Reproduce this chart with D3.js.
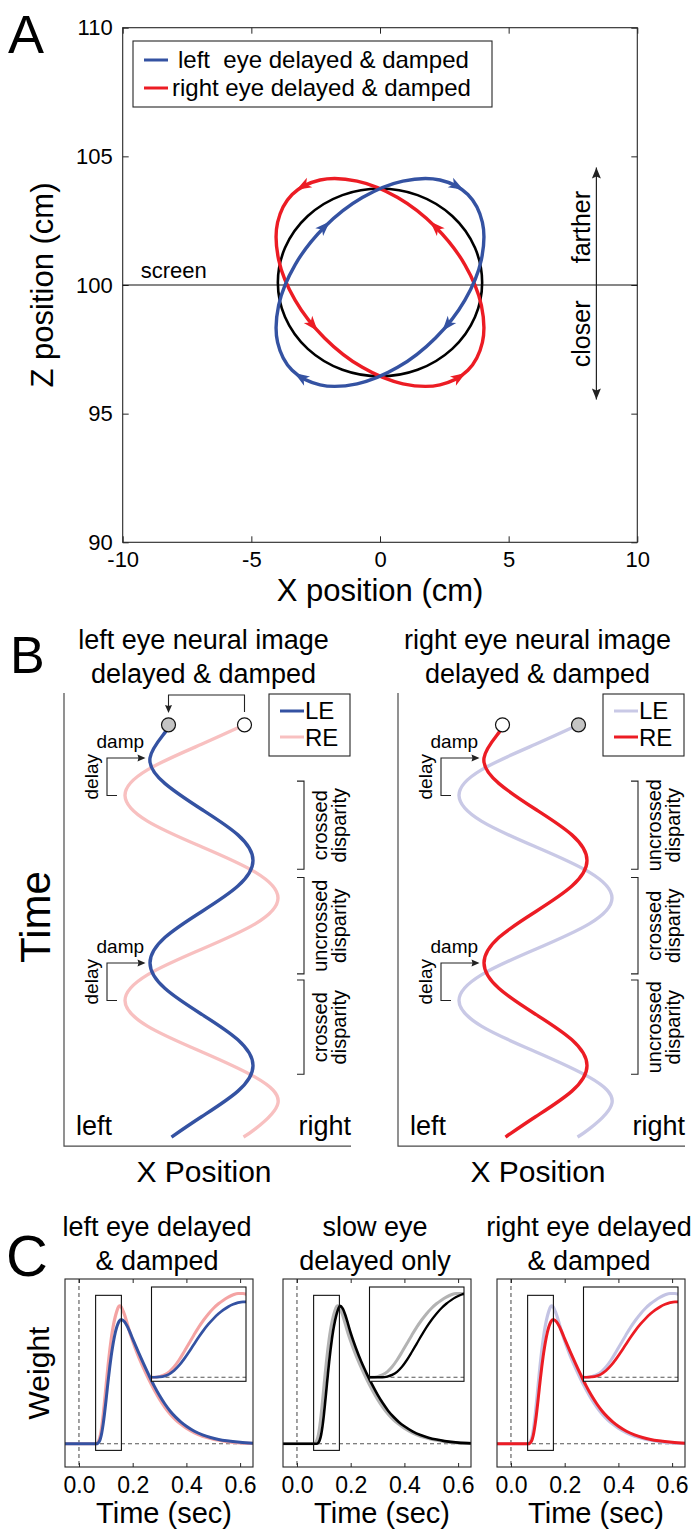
<!DOCTYPE html>
<html><head><meta charset="utf-8">
<script src="https://cdn.jsdelivr.net/npm/d3@7"></script>
<style>
body{margin:0;background:#fff}
svg{display:block}
text{font-family:"Liberation Sans",Arial,Helvetica,sans-serif;fill:#000}
</style>
</head><body>
<svg id="fig" width="691" height="1529"></svg>
<script>
// ================= DATA =================
// ---- Panel A ----
const aXTicks = [-10, -5, 0, 5, 10];
const aZTicks = [90, 95, 100, 105, 110];
const aLegendLabels = ['left  eye delayed & damped', 'right eye delayed & damped'];
// perceived trajectories [x (cm), z (cm)]
const leftEyeLoop = [[3.415,103.515],[2.330,104.08],[0.890,104.04],[-0.686,103.40],[-2.157,102.257],[-3.300,100.786],[-3.940,99.21],[-3.980,97.77],[-3.415,96.685],[-2.330,96.12],[-0.890,96.16],[0.686,96.80],[2.157,97.943],[3.300,99.414],[3.940,100.99],[3.980,102.43]];
const rightEyeLoop = [[-3.415,103.515],[-2.330,104.08],[-0.890,104.04],[0.686,103.40],[2.157,102.257],[3.300,100.786],[3.940,99.21],[3.980,97.77],[3.415,96.685],[2.330,96.12],[0.890,96.16],[-0.686,96.80],[-2.157,97.943],[-3.300,99.414],[-3.940,100.99],[-3.980,102.43]];
// arrows [x, z, dx, dz]
const leftEyeArrows = [[2.99,103.84,2.72,-1.53],[-2.157,102.257,3.415,3.415],[2.611,98.44,-3.081,-3.681],[-3.081,96.42,-2.61,1.66]];
const rightEyeArrows = [[-2.99,103.84,-2.72,-1.53],[2.157,102.257,-3.415,3.415],[-2.611,98.44,3.081,-3.681],[3.081,96.42,2.61,1.66]];
const stimulusCircle = [0, 100.1, 3.97, 3.65]; // cx, cz, rx, rz
const screenDepth = 100;
const depthArrow = [8.41, 95.55, 104.57]; // x, z bottom, z top

// ---- Panel B ---- [time (cycles), x position]
const bTitles = [['left eye neural image','delayed & damped'],['right eye neural image','delayed & damped']];
const undampedTrace = [[0.155,0.43],[0.25,0],[0.375,-0.541],[0.5,-0.765],[0.625,-0.541],[0.75,0],[0.875,0.541],[1.0,0.765],[1.125,0.541],[1.25,0],[1.375,-0.541],[1.5,-0.765],[1.625,-0.541],[1.75,0],[1.875,0.541],[2.0,0.765],[2.125,0.541],[2.166,0.42]];
const dampedTrace = [[0.155,-0.33],[0.192,-0.364],[0.317,-0.515],[0.442,-0.364],[0.567,0],[0.692,0.364],[0.817,0.515],[0.942,0.364],[1.067,0],[1.192,-0.364],[1.317,-0.515],[1.442,-0.364],[1.567,0],[1.692,0.364],[1.817,0.515],[1.942,0.364],[2.067,0],[2.166,-0.30]];
const dampTimes = [0.317, 1.317];
const delayEnds = [0.5, 1.5];
const bracketSpans = [[0.43,0.86],[0.9,1.37],[1.4,1.86]];
const leftBracketLabels = ['crossed','uncrossed','crossed'];
const rightBracketLabels = ['uncrossed','crossed','uncrossed'];

// ---- Panel C ---- time (s) and weights
const cTimes =      [-0.052,0.06,0.065,0.07,0.075,0.08,0.085,0.09,0.095,0.10,0.105,0.11,0.115,0.12,0.125,0.13,0.135,0.14,0.145,0.15,0.155,0.16,0.17,0.18,0.19,0.20,0.21,0.22,0.24,0.26,0.28,0.30,0.32,0.34,0.36,0.38,0.40,0.43,0.46,0.49,0.52,0.55,0.60,0.648];
const fastWeights = [0,0,0,0.008,0.028,0.065,0.125,0.205,0.3,0.4,0.5,0.595,0.68,0.755,0.82,0.873,0.916,0.952,0.98,0.996,0.995,0.978,0.93,0.866,0.8,0.742,0.688,0.638,0.548,0.465,0.39,0.322,0.263,0.213,0.173,0.14,0.112,0.079,0.055,0.038,0.025,0.015,0.006,0.002];
const dampedWeights=[0,0,0,0.004,0.014,0.038,0.08,0.14,0.215,0.3,0.39,0.478,0.56,0.633,0.697,0.753,0.8,0.838,0.866,0.886,0.896,0.896,0.88,0.848,0.805,0.758,0.712,0.667,0.58,0.497,0.418,0.348,0.287,0.235,0.192,0.156,0.126,0.09,0.064,0.045,0.031,0.021,0.01,0.004];
const slowWeights = [0,0,0,0,0,0.008,0.028,0.065,0.125,0.205,0.3,0.4,0.5,0.595,0.68,0.755,0.82,0.873,0.916,0.952,0.98,0.996,0.978,0.93,0.866,0.8,0.742,0.688,0.59,0.505,0.427,0.355,0.292,0.237,0.193,0.156,0.126,0.09,0.063,0.044,0.03,0.019,0.008,0.003];
const cTicks = [0, 0.2, 0.4, 0.6];
const cTitles = [['left eye delayed','& damped'],['slow eye','delayed only'],['right eye delayed','& damped']];
const zoomWindow = [0.062, 0.158, -0.048, 1.072]; // t0, t1, w0, w1

// ================= DRAWING =================
const svg = d3.select('#fig');
const AX = '#262626';
const BLUE = '#3452a2', RED = '#ec1c24';

function arrowHead(g, x, y, ang, len, hw, indent, color, tipAtPoint) {
  const off = tipAtPoint ? 0 : len / 2;
  const p = `M${off},0 L${off-len},${-hw} L${off-len+indent},0 L${off-len},${hw} Z`;
  g.append('path').attr('d', p).attr('fill', color)
    .attr('transform', `translate(${x},${y}) rotate(${ang * 180 / Math.PI})`);
}
function styleAxis(g, size) {
  g.select('.domain').remove();
  g.selectAll('line').attr('stroke', AX);
  g.selectAll('text').attr('font-size', size).attr('font-family', '"Liberation Sans",Arial,sans-serif').attr('fill', '#1a1a1a');
  g.attr('font-family', null).attr('font-size', null);
}

// ---------- Panel A ----------
const xA = d3.scaleLinear().domain([-10, 10]).range([122.7, 637.3]);
const zA = d3.scaleLinear().domain([90, 110]).range([542.3, 27.7]);
const gA = svg.append('g');

gA.append('g').attr('transform', `translate(0,${zA(90)})`)
  .call(d3.axisBottom(xA).tickValues(aXTicks).tickSize(-6).tickPadding(9).tickFormat(d => String(d)))
  .call(g => styleAxis(g, 22));
gA.append('g').attr('transform', `translate(0,${zA(110)})`)
  .call(d3.axisTop(xA).tickValues(aXTicks).tickSize(-6).tickFormat(''))
  .call(g => styleAxis(g, 22));
gA.append('g').attr('transform', `translate(${xA(-10)},0)`)
  .call(d3.axisLeft(zA).tickValues(aZTicks).tickSize(-6).tickPadding(10).tickFormat(d => String(d)))
  .call(g => styleAxis(g, 22));
gA.append('g').attr('transform', `translate(${xA(10)},0)`)
  .call(d3.axisRight(zA).tickValues(aZTicks).tickSize(-6).tickFormat(''))
  .call(g => styleAxis(g, 22));
gA.append('rect').attr('x', xA(-10)).attr('y', zA(110))
  .attr('width', xA(10) - xA(-10)).attr('height', zA(90) - zA(110))
  .attr('fill', 'none').attr('stroke', AX).attr('stroke-width', 1.1);

// screen line
gA.append('line').attr('x1', xA(-10)).attr('x2', xA(10)).attr('y1', zA(screenDepth)).attr('y2', zA(screenDepth))
  .attr('stroke', '#111').attr('stroke-width', 1.2);
gA.append('text').attr('x', xA(-9.3)).attr('y', zA(screenDepth) - 7).attr('font-size', 22).text('screen');

// depth arrow
gA.append('line').attr('x1', xA(depthArrow[0])).attr('x2', xA(depthArrow[0]))
  .attr('y1', zA(depthArrow[1])).attr('y2', zA(depthArrow[2])).attr('stroke', '#222').attr('stroke-width', 1.2);
arrowHead(gA, xA(depthArrow[0]), zA(depthArrow[2]), -Math.PI / 2, 11, 4.5, 2, '#222', true);
arrowHead(gA, xA(depthArrow[0]), zA(depthArrow[1]), Math.PI / 2, 11, 4.5, 2, '#222', true);
gA.append('text').attr('transform', `translate(${xA(depthArrow[0]) - 6},${zA(102.25)}) rotate(-90)`)
  .attr('text-anchor', 'middle').attr('font-size', 25).text('farther');
gA.append('text').attr('transform', `translate(${xA(depthArrow[0]) - 6},${zA(98.1)}) rotate(-90)`)
  .attr('text-anchor', 'middle').attr('font-size', 25).text('closer');

// stimulus circle
gA.append('ellipse').attr('cx', xA(stimulusCircle[0])).attr('cy', zA(stimulusCircle[1]))
  .attr('rx', xA(stimulusCircle[2]) - xA(0)).attr('ry', zA(stimulusCircle[1] - stimulusCircle[3]) - zA(stimulusCircle[1]))
  .attr('fill', 'none').attr('stroke', '#000').attr('stroke-width', 2.6);

const loopLine = d3.line().x(d => xA(d[0])).y(d => zA(d[1])).curve(d3.curveCatmullRomClosed.alpha(0.5));
function drawLoop(data, arrows, color) {
  gA.append('path').attr('d', loopLine(data)).attr('fill', 'none').attr('stroke', color).attr('stroke-width', 3.4);
  arrows.forEach(a => {
    const sx = xA(a[0] + a[2] * 0.01) - xA(a[0]);
    const sy = zA(a[1] + a[3] * 0.01) - zA(a[1]);
    arrowHead(gA, xA(a[0]), zA(a[1]), Math.atan2(sy, sx), 15, 5.5, 4, color, false);
  });
}
drawLoop(rightEyeLoop, rightEyeArrows, RED);
drawLoop(leftEyeLoop, leftEyeArrows, BLUE);

// legend
const lg = gA.append('g');
lg.append('rect').attr('x', 133).attr('y', 41).attr('width', 359).attr('height', 66)
  .attr('fill', '#fff').attr('stroke', AX).attr('stroke-width', 1.1);
[BLUE, RED].forEach((c, i) => {
  lg.append('line').attr('x1', 144).attr('x2', 168).attr('y1', 60 + i * 28).attr('y2', 60 + i * 28)
    .attr('stroke', c).attr('stroke-width', 3);
  lg.append('text').attr('x', i === 0 ? 178 : 172).attr('y', 67.5 + i * 28).attr('font-size', 24)
    .style('white-space', 'pre').text(aLegendLabels[i]);
});

gA.append('text').attr('x', xA(0)).attr('y', 601).attr('text-anchor', 'middle').attr('font-size', 31).text('X position (cm)');
gA.append('text').attr('transform', `translate(53,${zA(100)}) rotate(-90)`).attr('text-anchor', 'middle').attr('font-size', 31).text('Z position (cm)');
svg.append('text').attr('x', 8).attr('y', 53).attr('font-size', 54).text('A');

// ---------- Panel B ----------
svg.append('text').attr('x', 10).attr('y', 673).attr('font-size', 52).text('B');
svg.append('text').attr('transform', 'translate(50,917) rotate(-90)').attr('text-anchor', 'middle').attr('font-size', 42).text('Time');

const tB = d3.scaleLinear().domain([0, 2.21]).range([693, 693 + 2.21 * 205]);
const bPanels = [
  { left: 64, title: bTitles[0], back: [undampedTrace, '#f8c0c0'], front: [dampedTrace, BLUE],
    legendColors: [BLUE, '#f8c0c0'], backFill: '#fff', frontFill: '#c4c4c4', labels: leftBracketLabels, connector: true },
  { left: 398, title: bTitles[1], back: [undampedTrace, '#c9c9e6'], front: [dampedTrace, RED],
    legendColors: ['#c9c9e6', RED], backFill: '#c4c4c4', frontFill: '#fff', labels: rightBracketLabels, connector: false }
];
bPanels.forEach(p => {
  const W = 287;
  const xB = d3.scaleLinear().domain([-1.375, 1.495]).range([p.left, p.left + W]);
  const g = svg.append('g');
  const bottom = tB(2.21);
  // axes (left + bottom)
  g.append('path').attr('d', `M${p.left},${tB(0)} V${bottom} H${p.left + W}`)
    .attr('fill', 'none').attr('stroke', '#4a4a4a').attr('stroke-width', 1.2);
  // titles
  g.append('text').attr('x', xB(0) + 2).attr('y', 649).attr('text-anchor', 'middle').attr('font-size', 27).text(p.title[0]);
  g.append('text').attr('x', xB(0) + 2).attr('y', 683).attr('text-anchor', 'middle').attr('font-size', 27).text(p.title[1]);
  // traces
  const ln = d3.line().x(d => xB(d[1])).y(d => tB(d[0])).curve(d3.curveNatural);
  g.append('path').attr('d', ln(p.back[0])).attr('fill', 'none').attr('stroke', p.back[1]).attr('stroke-width', 3.4);
  g.append('path').attr('d', ln(p.front[0])).attr('fill', 'none').attr('stroke', p.front[1]).attr('stroke-width', 3.4);
  // start circles
  const b0 = p.back[0][0], f0 = p.front[0][0];
  g.append('circle').attr('cx', xB(b0[1])).attr('cy', tB(b0[0])).attr('r', 7)
    .attr('fill', p.backFill).attr('stroke', '#111').attr('stroke-width', 1.2);
  g.append('circle').attr('cx', xB(f0[1])).attr('cy', tB(f0[0])).attr('r', 7)
    .attr('fill', p.frontFill).attr('stroke', '#111').attr('stroke-width', 1.2);
  if (p.connector) {
    g.append('path').attr('d', `M${xB(b0[1])},${tB(0.093)} V${tB(0.01)} H${xB(f0[1])} V${tB(0.07)}`)
      .attr('fill', 'none').attr('stroke', '#222').attr('stroke-width', 1.1);
    arrowHead(g, xB(f0[1]), tB(0.098), Math.PI / 2, 8, 3.5, 1, '#222', true);
  }
  // legend
  const lx = p.left + 205;
  g.append('rect').attr('x', lx).attr('y', 694).attr('width', 81).attr('height', 62)
    .attr('fill', '#fff').attr('stroke', AX).attr('stroke-width', 1.1);
  ['LE', 'RE'].forEach((s, i) => {
    g.append('line').attr('x1', lx + 11).attr('x2', lx + 35).attr('y1', 711 + i * 26).attr('y2', 711 + i * 26)
      .attr('stroke', p.legendColors[i]).attr('stroke-width', 3);
    g.append('text').attr('x', lx + 36).attr('y', 719 + i * 27).attr('font-size', 24).text(s);
  });
  // damp / delay annotations
  dampTimes.forEach((dt, i) => {
    const y0 = tB(dt), y1 = tB(delayEnds[i]);
    g.append('path').attr('d', `M${xB(-0.58)},${y0} H${xB(-0.945)} V${y1} H${xB(-0.845)}`)
      .attr('fill', 'none').attr('stroke', '#222').attr('stroke-width', 1.1);
    arrowHead(g, xB(-0.56), y0, 0, 8, 3.5, 1, '#222', true);
    g.append('text').attr('x', xB(-1.05)).attr('y', y0 - 10).attr('font-size', 19).text('damp');
    g.append('text').attr('transform', `translate(${xB(-1.035)},${(y0 + y1) / 2}) rotate(-90)`)
      .attr('text-anchor', 'middle').attr('font-size', 19).text('delay');
  });
  // disparity brackets
  bracketSpans.forEach((s, i) => {
    const y0 = tB(s[0]), y1 = tB(s[1]);
    g.append('path').attr('d', `M${xB(0.955)},${y0} H${xB(1.025)} V${y1} H${xB(0.955)}`)
      .attr('fill', 'none').attr('stroke', '#222').attr('stroke-width', 1.1);
    g.append('text').attr('transform', `translate(${xB(1.255)},${(y0 + y1) / 2}) rotate(-90)`)
      .attr('text-anchor', 'middle').attr('font-size', 20).text(p.labels[i]);
    g.append('text').attr('transform', `translate(${xB(1.44)},${(y0 + y1) / 2}) rotate(-90)`)
      .attr('text-anchor', 'middle').attr('font-size', 20).text('disparity');
  });
  g.append('text').attr('x', p.left + 12).attr('y', 1135).attr('font-size', 27).text('left');
  g.append('text').attr('x', p.left + W).attr('y', 1135).attr('text-anchor', 'end').attr('font-size', 27).text('right');
  g.append('text').attr('x', p.left + 140).attr('y', 1182).attr('text-anchor', 'middle').attr('font-size', 30).text('X Position');
});

// ---------- Panel C ----------
svg.append('text').attr('x', 6).attr('y', 1276).attr('font-size', 58).text('C');
svg.append('text').attr('transform', 'translate(49,1373) rotate(-90)').attr('text-anchor', 'middle').attr('font-size', 30).text('Weight');

const cPanels = [
  { left: 65, title: cTitles[0], back: [fastWeights, '#f4a3a3'], front: [dampedWeights, BLUE], fw: 3 },
  { left: 283, title: cTitles[1], back: [fastWeights, '#b3b3b3'], front: [slowWeights, '#000'], fw: 2.6 },
  { left: 497, title: cTitles[2], back: [fastWeights, '#c3c3e3'], front: [dampedWeights, RED], fw: 3 }
];
cPanels.forEach((p, pi) => {
  const W = 188, top = 1279, bot = 1467;
  const x = d3.scaleLinear().domain([-0.052, 0.648]).range([p.left, p.left + W]);
  const y = d3.scaleLinear().domain([-0.168, 1.19]).range([bot, top]);
  const g = svg.append('g');
  g.append('text').attr('x', p.left + W / 2 - 2).attr('y', 1236).attr('text-anchor', 'middle').attr('font-size', 27).text(p.title[0]);
  g.append('text').attr('x', p.left + W / 2 - 2).attr('y', 1270).attr('text-anchor', 'middle').attr('font-size', 27).text(p.title[1]);
  // reference dashed lines
  g.append('line').attr('x1', x(0)).attr('x2', x(0)).attr('y1', top).attr('y2', bot)
    .attr('stroke', '#555').attr('stroke-width', 1.1).attr('stroke-dasharray', '4,3');
  g.append('line').attr('x1', x(-0.052)).attr('x2', x(0.648)).attr('y1', y(0)).attr('y2', y(0))
    .attr('stroke', '#555').attr('stroke-width', 1.1).attr('stroke-dasharray', '4,3');
  const mk = arr => cTimes.map((t, i) => [t, arr[i]]);
  const line = d3.line().x(d => x(d[0])).y(d => y(d[1])).curve(d3.curveMonotoneX);
  g.append('path').attr('d', line(mk(p.back[0]))).attr('fill', 'none').attr('stroke', p.back[1]).attr('stroke-width', 3.2);
  g.append('path').attr('d', line(mk(p.front[0]))).attr('fill', 'none').attr('stroke', p.front[1]).attr('stroke-width', p.fw);
  // zoom rectangle
  g.append('rect').attr('x', x(zoomWindow[0])).attr('y', y(zoomWindow[3]))
    .attr('width', x(zoomWindow[1]) - x(zoomWindow[0])).attr('height', y(zoomWindow[2]) - y(zoomWindow[3]))
    .attr('fill', 'none').attr('stroke', '#111').attr('stroke-width', 1.1);
  // inset
  const ix0 = p.left + 86.5, iy0 = 1287, iw = 94.5, ih = 94.3;
  const xi = d3.scaleLinear().domain([zoomWindow[0], zoomWindow[1]]).range([ix0, ix0 + iw]);
  const yi = d3.scaleLinear().domain([zoomWindow[2], zoomWindow[3]]).range([iy0 + ih, iy0]);
  const cid = 'clipC' + pi;
  svg.append('clipPath').attr('id', cid).append('rect').attr('x', ix0).attr('y', iy0).attr('width', iw).attr('height', ih);
  g.append('rect').attr('x', ix0).attr('y', iy0).attr('width', iw).attr('height', ih).attr('fill', '#fff');
  const ig = g.append('g').attr('clip-path', `url(#${cid})`);
  ig.append('line').attr('x1', ix0).attr('x2', ix0 + iw).attr('y1', yi(0)).attr('y2', yi(0))
    .attr('stroke', '#555').attr('stroke-width', 1.1).attr('stroke-dasharray', '4,3');
  const iline = d3.line().x(d => xi(d[0])).y(d => yi(d[1])).curve(d3.curveMonotoneX);
  ig.append('path').attr('d', iline(mk(p.back[0]))).attr('fill', 'none').attr('stroke', p.back[1]).attr('stroke-width', 3);
  ig.append('path').attr('d', iline(mk(p.front[0]))).attr('fill', 'none').attr('stroke', p.front[1]).attr('stroke-width', p.fw - 0.3);
  g.append('rect').attr('x', ix0).attr('y', iy0).attr('width', iw).attr('height', ih)
    .attr('fill', 'none').attr('stroke', '#111').attr('stroke-width', 1.1);
  // axes
  g.append('g').attr('transform', `translate(0,${bot})`)
    .call(d3.axisBottom(x).tickValues(cTicks).tickSize(-4).tickPadding(10).tickFormat(d3.format('.1f')))
    .call(gg => styleAxis(gg, 23));
  g.append('g').attr('transform', `translate(0,${top})`)
    .call(d3.axisTop(x).tickValues(cTicks).tickSize(-4).tickFormat(''))
    .call(gg => styleAxis(gg, 23));
  g.append('rect').attr('x', p.left).attr('y', top).attr('width', W).attr('height', bot - top)
    .attr('fill', 'none').attr('stroke', AX).attr('stroke-width', 1.1);
  g.append('text').attr('x', p.left + W / 2 + 5).attr('y', 1523).attr('text-anchor', 'middle').attr('font-size', 29).text('Time (sec)');
});
</script>
</body></html>
